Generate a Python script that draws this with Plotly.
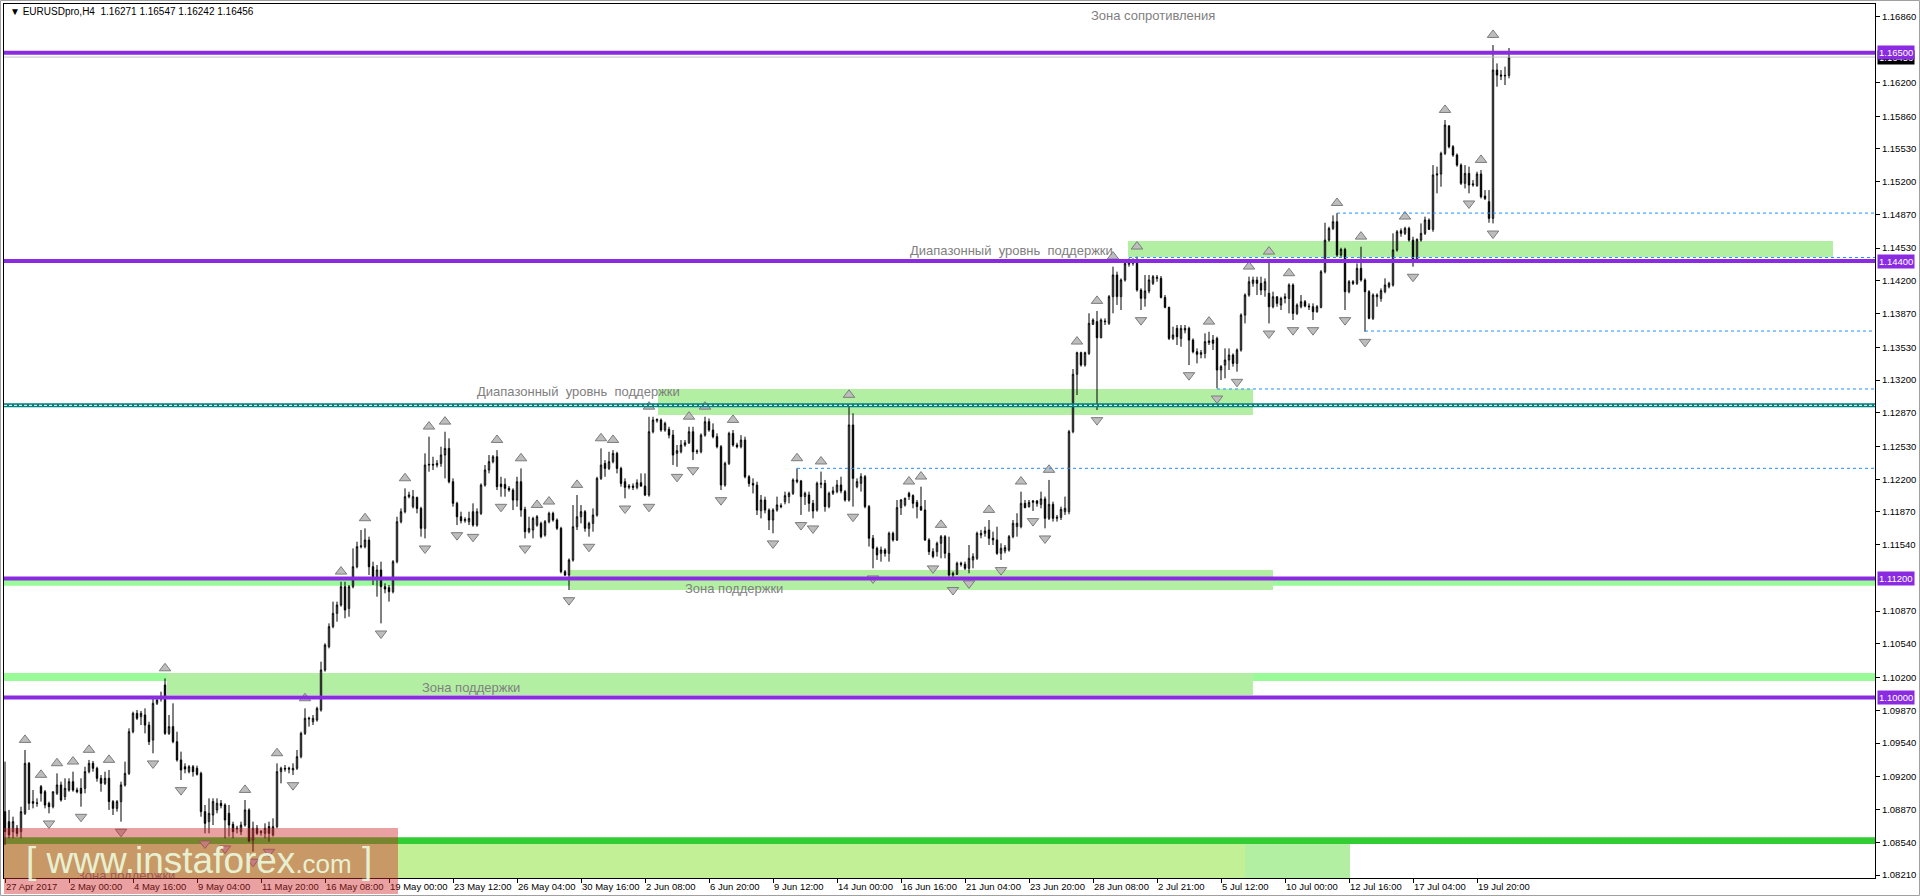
import plotly.graph_objects as go

# ---------------- data (EURUSD H4, 27 Apr 2017 08:00 -> 21 Jul 2017 04:00) ----------------
opens = [
1.08849,1.08748,1.08647,1.08681,1.08647,1.08832,1.09336,1.08950,1.08933,1.09101,
1.09050,1.08933,1.08899,1.09034,1.09118,1.09000,1.09067,1.09151,1.09067,1.09084,
1.09084,1.09252,1.09336,1.09286,1.09185,1.09134,1.09185,1.08950,1.08882,1.08950,
1.09118,1.09235,1.09655,1.09840,1.09806,1.09823,1.09722,1.09571,1.09941,1.09984,
1.10126,1.09638,1.09706,1.09554,1.09370,1.09302,1.09252,1.09302,1.09286,1.09235,
1.08849,1.08748,1.08815,1.08866,1.08933,1.08916,1.08832,1.08721,1.08674,1.08647,
1.08714,1.08866,1.08563,1.08681,1.08637,1.08630,1.08698,1.08614,1.08698,1.09252,
1.09286,1.09276,1.09269,1.09286,1.09403,1.09638,1.09783,1.09756,1.09773,1.09874,
1.10277,1.10512,1.10714,1.10848,1.10932,1.11117,1.10898,1.11117,1.11318,1.11520,
1.11520,1.11587,1.11318,1.11218,1.11285,1.11117,1.11107,1.11066,1.11369,1.11772,
1.11873,1.12024,1.11923,1.12017,1.11906,1.11705,1.12343,1.12350,1.12343,1.12360,
1.12444,1.12511,1.12175,1.11957,1.11822,1.11782,1.11772,1.11873,1.11738,1.11856,
1.12141,1.12293,1.12377,1.12427,1.12151,1.12148,1.12108,1.12091,1.11990,1.12175,
1.11896,1.11671,1.11688,1.11738,1.11755,1.11637,1.11772,1.11856,1.11789,1.11705,
1.11268,1.11234,1.11385,1.11721,1.11822,1.11873,1.11705,1.11755,1.11839,1.12209,
1.12360,1.12309,1.12377,1.12461,1.12309,1.12175,1.12118,1.12131,1.12118,1.12165,
1.12131,1.12041,1.12679,1.12790,1.12797,1.12696,1.12703,1.12645,1.12461,1.12477,
1.12545,1.12568,1.12679,1.12477,1.12477,1.12645,1.12780,1.12696,1.12629,1.12528,
1.12141,1.12360,1.12662,1.12545,1.12528,1.12595,1.12225,1.12158,1.12141,1.11883,
1.11990,1.11889,1.11789,1.11890,1.11934,1.11974,1.12025,1.12058,1.12176,1.12183,
1.12025,1.12041,1.11957,1.11890,1.12149,1.12159,1.11924,1.12058,1.12075,1.12142,
1.12075,1.11991,1.12747,1.12125,1.12159,1.12226,1.11924,1.11605,1.11504,1.11453,
1.11487,1.11453,1.11655,1.11588,1.11914,1.11941,1.12058,1.12035,1.11967,1.11924,
1.11890,1.11588,1.11470,1.11470,1.11554,1.11621,1.11453,1.11235,1.11242,1.11353,
1.11343,1.11302,1.11386,1.11403,1.11638,1.11655,1.11689,1.11605,1.11588,1.11453,
1.11477,1.11487,1.11621,1.11722,1.11722,1.11957,1.11924,1.11967,1.11981,1.11947,
1.12001,1.11806,1.11947,1.11806,1.11816,1.11873,1.11873,1.12680,1.13258,1.13476,
1.13352,1.13469,1.13762,1.13789,1.13627,1.13795,1.13772,1.14041,1.14259,1.14041,
1.14209,1.14367,1.14377,1.14393,1.14108,1.14024,1.14098,1.14175,1.14225,1.14225,
1.14033,1.13933,1.13620,1.13721,1.13620,1.13704,1.13721,1.13603,1.13486,1.13459,
1.13469,1.13577,1.13603,1.13620,1.13301,1.13351,1.13402,1.13452,1.13368,1.13503,
1.13855,1.14057,1.14175,1.14208,1.14175,1.14107,1.14074,1.13939,1.14040,1.13956,
1.14023,1.14023,1.14158,1.13872,1.13939,1.13990,1.13946,1.13939,1.13889,1.13933,
1.14292,1.14611,1.14729,1.14796,1.14460,1.14517,1.14091,1.14191,1.14175,1.14326,
1.14208,1.14091,1.13822,1.14040,1.14023,1.14091,1.14141,1.14158,1.14511,1.14705,
1.14679,1.14729,1.14611,1.14410,1.14611,1.14679,1.14813,1.14719,1.15267,1.15277,
1.15485,1.15761,1.15552,1.15468,1.15367,1.15183,1.15283,1.15166,1.15159,1.15277,
1.15055,1.14998,1.14830,1.16325,1.16275,1.16265,1.16271]

highs = [
1.09353,1.08866,1.08798,1.08714,1.08899,1.09470,1.09350,1.09067,1.08983,1.09118,
1.09067,1.08950,1.09050,1.09235,1.09151,1.09185,1.09185,1.09252,1.09091,1.09185,
1.09302,1.09370,1.09360,1.09302,1.09218,1.09252,1.09269,1.08966,1.08966,1.09151,
1.09353,1.09689,1.09857,1.09874,1.09864,1.09890,1.09756,1.09991,1.10008,1.10058,
1.10192,1.09823,1.09941,1.09655,1.09454,1.09336,1.09319,1.09319,1.09313,1.09252,
1.08916,1.08983,1.08983,1.08983,1.08966,1.08933,1.08916,1.08748,1.08707,1.08748,
1.08966,1.08882,1.08748,1.08714,1.08664,1.08731,1.08748,1.08782,1.09336,1.09302,
1.09319,1.09302,1.09336,1.09470,1.09655,1.09890,1.09806,1.09823,1.09907,1.10361,
1.10546,1.10747,1.10966,1.10966,1.11167,1.11167,1.11134,1.11503,1.11570,1.11688,
1.11705,1.11621,1.11369,1.11335,1.11369,1.11151,1.11134,1.11385,1.11822,1.11906,
1.12108,1.12074,1.12091,1.12024,1.11923,1.12461,1.12629,1.12427,1.12393,1.12528,
1.12679,1.12612,1.12209,1.11973,1.11873,1.11816,1.11873,1.11957,1.11906,1.12158,
1.12343,1.12444,1.12444,1.12494,1.12225,1.12209,1.12131,1.12108,1.12225,1.12309,
1.11923,1.11822,1.11822,1.11839,1.11772,1.11789,1.11873,1.11873,1.11805,1.11721,
1.11285,1.11402,1.11940,1.12041,1.11940,1.11889,1.11772,1.11906,1.12225,1.12511,
1.12393,1.12477,1.12494,1.12477,1.12326,1.12209,1.12151,1.12158,1.12199,1.12259,
1.12259,1.12830,1.12830,1.12813,1.12813,1.12780,1.12729,1.12696,1.12545,1.12595,
1.12595,1.12729,1.12729,1.12501,1.12662,1.12830,1.12813,1.12763,1.12662,1.12545,
1.12377,1.12679,1.12696,1.12568,1.12645,1.12629,1.12242,1.12209,1.12175,1.12041,
1.12024,1.11906,1.11907,1.12025,1.11957,1.12075,1.12075,1.12209,1.12310,1.12193,
1.12075,1.12075,1.11991,1.12176,1.12277,1.12193,1.12075,1.12125,1.12193,1.12226,
1.12092,1.12949,1.12865,1.12209,1.12260,1.12243,1.11941,1.11638,1.11521,1.11521,
1.11504,1.11672,1.11672,1.11991,1.12001,1.12015,1.12075,1.12048,1.11991,1.12125,
1.11991,1.11605,1.11504,1.11571,1.11638,1.11638,1.11621,1.11269,1.11369,1.11369,
1.11369,1.11537,1.11453,1.11672,1.11689,1.11722,1.11789,1.11672,1.11722,1.11554,
1.11537,1.11638,1.11789,1.11857,1.12075,1.11991,1.11991,1.11991,1.11991,1.12075,
1.12025,1.12193,1.11974,1.11840,1.11924,1.12025,1.12697,1.13311,1.13486,1.13486,
1.13486,1.13873,1.13822,1.13896,1.13822,1.13822,1.14057,1.14343,1.14293,1.14225,
1.14410,1.14427,1.14427,1.14444,1.14125,1.14259,1.14259,1.14259,1.14259,1.14249,
1.14057,1.13939,1.13738,1.13755,1.13755,1.13755,1.13738,1.13620,1.13519,1.13503,
1.13671,1.13687,1.13654,1.13637,1.13351,1.13519,1.13519,1.13469,1.13519,1.13872,
1.14074,1.14242,1.14242,1.14242,1.14242,1.14225,1.14393,1.14091,1.14040,1.14040,
1.14074,1.14175,1.14175,1.13973,1.14057,1.14007,1.13973,1.13973,1.13956,1.14309,
1.14786,1.14746,1.14860,1.14883,1.14534,1.14534,1.14208,1.14208,1.14376,1.14544,
1.14225,1.14107,1.14074,1.14074,1.14124,1.14225,1.14191,1.14679,1.14712,1.14729,
1.14746,1.14746,1.14645,1.14628,1.14779,1.14847,1.14830,1.15367,1.15351,1.15502,
1.15821,1.15771,1.15569,1.15485,1.15384,1.15367,1.15351,1.15216,1.15300,1.15317,
1.15115,1.15115,1.16577,1.16392,1.16325,1.16359,1.16547]

lows = [
1.08513,1.08580,1.08580,1.08597,1.08580,1.08815,1.08866,1.08882,1.08899,1.08950,
1.08882,1.08832,1.08882,1.09017,1.08950,1.08966,1.09050,1.09050,1.09034,1.08899,
1.09034,1.09235,1.09252,1.09151,1.09050,1.09118,1.08866,1.08815,1.08849,1.08748,
1.09101,1.09218,1.09638,1.09773,1.09722,1.09638,1.09521,1.09437,1.09924,1.09958,
1.09622,1.09622,1.09538,1.09353,1.09168,1.09235,1.09235,1.09202,1.09212,1.08798,
1.08630,1.08630,1.08714,1.08832,1.08882,1.08580,1.08597,1.08580,1.08630,1.08614,
1.08698,1.08540,1.08446,1.08614,1.08607,1.08580,1.08546,1.08597,1.08681,1.09134,
1.09252,1.09235,1.09218,1.09269,1.09386,1.09622,1.09706,1.09722,1.09756,1.09857,
1.10260,1.10495,1.10697,1.10764,1.10915,1.10798,1.10814,1.11100,1.11302,1.11503,
1.11503,1.11234,1.11134,1.11016,1.10747,1.11050,1.10966,1.11049,1.11352,1.11755,
1.11856,1.12007,1.11906,1.11856,1.11621,1.11604,1.12276,1.12293,1.12319,1.12326,
1.12209,1.12158,1.11923,1.11738,1.11755,1.11762,1.11738,1.11721,1.11721,1.11839,
1.12125,1.12259,1.12360,1.12091,1.12024,1.12024,1.12074,1.11889,1.11923,1.11822,
1.11604,1.11654,1.11604,1.11721,1.11604,1.11621,1.11755,1.11772,1.11688,1.11251,
1.11224,1.11083,1.11369,1.11688,1.11755,1.11671,1.11621,1.11671,1.11822,1.12192,
1.12225,1.12293,1.12360,1.12259,1.12125,1.12007,1.12098,1.12091,1.12098,1.12125,
1.12030,1.12024,1.12662,1.12770,1.12679,1.12679,1.12612,1.12343,1.12326,1.12461,
1.12528,1.12555,1.12393,1.12454,1.12461,1.12629,1.12679,1.12612,1.12511,1.12091,
1.12125,1.12343,1.12528,1.12511,1.12511,1.12209,1.12125,1.12057,1.11839,1.11805,
1.11856,1.11688,1.11655,1.11873,1.11907,1.11947,1.11957,1.12041,1.12159,1.11840,
1.11941,1.11873,1.11806,1.11873,1.12109,1.11873,1.11907,1.12041,1.12058,1.12058,
1.11974,1.11974,1.11924,1.12109,1.12075,1.11907,1.11521,1.11302,1.11386,1.11369,
1.11420,1.11369,1.11571,1.11578,1.11840,1.11924,1.11991,1.11907,1.11806,1.11880,
1.11578,1.11437,1.11403,1.11420,1.11403,1.11403,1.11218,1.11185,1.11235,1.11319,
1.11285,1.11252,1.11302,1.11386,1.11605,1.11621,1.11537,1.11537,1.11437,1.11386,
1.11453,1.11470,1.11605,1.11621,1.11705,1.11907,1.11914,1.11880,1.11924,1.11907,
1.11705,1.11789,1.11773,1.11773,1.11789,1.11840,1.11847,1.12663,1.13049,1.13335,
1.13335,1.13453,1.13755,1.12898,1.13621,1.13755,1.13755,1.13873,1.13957,1.13906,
1.14192,1.14343,1.14353,1.14091,1.13906,1.13940,1.14074,1.14158,1.14191,1.14023,
1.13923,1.13603,1.13603,1.13553,1.13536,1.13671,1.13351,1.13469,1.13368,1.13419,
1.13419,1.13553,1.13503,1.13116,1.13200,1.13217,1.13301,1.13335,1.13284,1.13486,
1.13771,1.14040,1.14141,1.14057,1.14057,1.14040,1.13771,1.13923,1.13939,1.13906,
1.13973,1.13872,1.13805,1.13855,1.13923,1.13933,1.13906,1.13805,1.13879,1.13923,
1.14275,1.14595,1.14712,1.14443,1.14443,1.13906,1.14074,1.14158,1.14158,1.14191,
1.13687,1.13812,1.13805,1.13939,1.13990,1.14074,1.14124,1.14141,1.14494,1.14645,
1.14662,1.14595,1.14343,1.14393,1.14595,1.14662,1.14712,1.14695,1.15082,1.15149,
1.15468,1.15535,1.15451,1.15351,1.15166,1.15132,1.15082,1.15149,1.15149,1.15031,
1.15015,1.14786,1.14779,1.16157,1.16224,1.16174,1.16242]

closes = [
1.08647,1.08614,1.08748,1.08630,1.08849,1.09336,1.08933,1.08933,1.08936,1.09034,
1.08916,1.08899,1.09050,1.09118,1.08966,1.09084,1.09151,1.09067,1.09050,1.09034,
1.09252,1.09336,1.09286,1.09185,1.09134,1.09185,1.08950,1.08882,1.08950,1.09118,
1.09235,1.09655,1.09840,1.09790,1.09840,1.09722,1.09554,1.09941,1.09974,1.09991,
1.09638,1.09706,1.09554,1.09370,1.09269,1.09279,1.09302,1.09252,1.09225,1.08849,
1.08731,1.08832,1.08950,1.08933,1.08909,1.08765,1.08714,1.08647,1.08681,1.08714,
1.08866,1.08553,1.08681,1.08630,1.08647,1.08681,1.08630,1.08698,1.09252,1.09286,
1.09279,1.09286,1.09286,1.09403,1.09638,1.09790,1.09790,1.09790,1.09890,1.10277,
1.10529,1.10714,1.10848,1.10932,1.11117,1.10882,1.11117,1.11318,1.11520,1.11527,
1.11587,1.11318,1.11218,1.11285,1.11117,1.11093,1.11066,1.11369,1.11772,1.11873,
1.12024,1.12041,1.12024,1.11906,1.11705,1.12343,1.12350,1.12343,1.12360,1.12444,
1.12511,1.12175,1.11957,1.11822,1.11782,1.11795,1.11805,1.11738,1.11873,1.12141,
1.12293,1.12377,1.12427,1.12125,1.12125,1.12108,1.12091,1.11990,1.12175,1.11889,
1.11671,1.11705,1.11805,1.11822,1.11621,1.11772,1.11856,1.11789,1.11705,1.11268,
1.11234,1.11385,1.11721,1.11822,1.11873,1.11705,1.11755,1.11839,1.12209,1.12343,
1.12309,1.12377,1.12461,1.12309,1.12158,1.12118,1.12131,1.12118,1.12165,1.12131,
1.12041,1.12679,1.12797,1.12803,1.12696,1.12763,1.12645,1.12444,1.12488,1.12545,
1.12568,1.12679,1.12477,1.12484,1.12645,1.12780,1.12696,1.12629,1.12528,1.12141,
1.12360,1.12662,1.12545,1.12528,1.12595,1.12225,1.12158,1.12141,1.11889,1.11990,
1.11889,1.11789,1.11890,1.11941,1.11924,1.12035,1.12058,1.12193,1.12193,1.12025,
1.12058,1.11957,1.11880,1.12159,1.12159,1.11924,1.12058,1.12082,1.12142,1.12082,
1.11991,1.12747,1.12209,1.12176,1.12226,1.11924,1.11605,1.11504,1.11437,1.11487,
1.11453,1.11655,1.11588,1.11914,1.11991,1.12008,1.12025,1.11957,1.11924,1.11890,
1.11588,1.11470,1.11420,1.11554,1.11621,1.11453,1.11235,1.11252,1.11353,1.11343,
1.11302,1.11403,1.11420,1.11655,1.11655,1.11679,1.11605,1.11588,1.11453,1.11504,
1.11511,1.11621,1.11756,1.11756,1.11957,1.11914,1.11967,1.11981,1.11957,1.12001,
1.11806,1.11947,1.11806,1.11816,1.11897,1.11907,1.12680,1.13258,1.13476,1.13352,
1.13476,1.13772,1.13805,1.13627,1.13805,1.13789,1.14041,1.14259,1.14041,1.14209,
1.14377,1.14393,1.14393,1.14108,1.14024,1.14098,1.14209,1.14242,1.14235,1.14033,
1.13933,1.13620,1.13654,1.13637,1.13721,1.13721,1.13603,1.13486,1.13459,1.13476,
1.13587,1.13594,1.13570,1.13301,1.13335,1.13402,1.13452,1.13368,1.13503,1.13855,
1.14057,1.14191,1.14208,1.14175,1.14107,1.14191,1.13939,1.14040,1.13973,1.14023,
1.14040,1.14158,1.13872,1.13956,1.13990,1.13946,1.13939,1.13889,1.13939,1.14292,
1.14611,1.14729,1.14796,1.14460,1.14517,1.14091,1.14191,1.14175,1.14326,1.14208,
1.14091,1.13822,1.14057,1.14057,1.14101,1.14158,1.14175,1.14511,1.14695,1.14679,
1.14729,1.14611,1.14410,1.14618,1.14679,1.14813,1.14719,1.15267,1.15277,1.15485,
1.15771,1.15552,1.15468,1.15367,1.15183,1.15283,1.15166,1.15176,1.15277,1.15048,
1.15031,1.14830,1.16325,1.16275,1.16265,1.16271,1.16456]

time_labels = ["27 Apr 2017", "2 May 00:00", "4 May 16:00", "9 May 04:00", "11 May 20:00",
               "16 May 08:00", "19 May 00:00", "23 May 12:00", "26 May 04:00", "30 May 16:00",
               "2 Jun 08:00", "6 Jun 20:00", "9 Jun 12:00", "14 Jun 00:00", "16 Jun 16:00",
               "21 Jun 04:00", "23 Jun 20:00", "28 Jun 08:00", "2 Jul 21:00", "5 Jul 12:00",
               "10 Jul 00:00", "12 Jul 16:00", "17 Jul 04:00", "19 Jul 20:00"]
label_step = 16

price_ticks = [1.16860, 1.16200, 1.15860, 1.15530, 1.15200, 1.14870, 1.14530, 1.14200,
               1.13870, 1.13530, 1.13200, 1.12870, 1.12530, 1.12200, 1.11870, 1.11540,
               1.10870, 1.10540, 1.10200, 1.09870, 1.09540, 1.09200, 1.08870, 1.08540, 1.08210]

purple_levels = [1.16500, 1.14400, 1.11200, 1.10000]
teal_level = 1.12945
bid_price = 1.16456
# dashed levels: (price, first bar)
dashed_levels = [(1.14883, 333), (1.14435, 281), (1.13694, 340), (1.13110, 303), (1.12310, 198)]
# zones: (first bar, last bar, low, high)
zones = [(280.75, 457, 1.14440, 1.14601),
         (163.25, 312, 1.12847, 1.13109),
         (141.25, 317, 1.11083, 1.11284),
         (40.5, 312, 1.10024, 1.10246)]
strips = [(1.10165, 1.10246), (1.11125, 1.11195)]
lime_strip = (1.08522, 1.08592)
bottom_zone_a = (-0.25, 310, 1.08522)
bottom_zone_b = (310, 336.25, 1.08522)

# --------------------------------------------------------------------------------------
n = min(len(opens), len(highs), len(lows), len(closes))
opens, highs, lows, closes = opens[:n], highs[:n], lows[:n], closes[:n]
highs = [max(h, o, c) for h, o, c in zip(highs, opens, closes)]
lows = [min(l, o, c) for l, o, c in zip(lows, opens, closes)]
xs = list(range(n))

X0, X1 = -0.25, 467.5
Y0, Y1 = 1.08180, 1.16991
PURPLE = "#8A2BE2"
FONT = "Liberation Sans"

fig = go.Figure()

fig.add_trace(go.Candlestick(
    x=xs, open=opens, high=highs, low=lows, close=closes,
    increasing=dict(line=dict(color="black", width=1), fillcolor="white"),
    decreasing=dict(line=dict(color="black", width=1), fillcolor="black"),
    whiskerwidth=0, showlegend=False, hoverinfo="skip"))

# Bill Williams fractals from the bars
up_x, up_y, dn_x, dn_y = [], [], [], []
for i in range(2, n - 2):
    if highs[i] > highs[i - 1] and highs[i] > highs[i - 2] and highs[i] >= highs[i + 1] and highs[i] >= highs[i + 2]:
        up_x.append(i); up_y.append(highs[i] + 0.00102)
    if lows[i] < lows[i - 1] and lows[i] < lows[i - 2] and lows[i] <= lows[i + 1] and lows[i] <= lows[i + 2]:
        dn_x.append(i); dn_y.append(lows[i] - 0.00102)
fig.add_trace(go.Scatter(x=up_x, y=up_y, mode="markers", showlegend=False, hoverinfo="skip",
                         marker=dict(symbol="triangle-up", size=10, color="#BDBDBD",
                                     line=dict(color="#7C7C7C", width=1))))
fig.add_trace(go.Scatter(x=dn_x, y=dn_y, mode="markers", showlegend=False, hoverinfo="skip",
                         marker=dict(symbol="triangle-down", size=10, color="#BDBDBD",
                                     line=dict(color="#7C7C7C", width=1))))

# clipped text at the bottom
fig.add_trace(go.Scatter(x=[18], y=[1.08192], mode="text", text=["Зона поддержки"],
                         textposition="middle right", cliponaxis=True, showlegend=False,
                         hoverinfo="skip", textfont=dict(family=FONT, size=13, color="#808080")))

shapes = []
ZONE = "#B3EFA3"
for a, b, lo, hi in zones:
    shapes.append(dict(type="rect", xref="x", yref="y", x0=a, x1=b, y0=lo, y1=hi,
                       fillcolor=ZONE, line=dict(width=0), layer="below"))
shapes.append(dict(type="rect", xref="x", yref="y", x0=bottom_zone_a[0], x1=bottom_zone_a[1],
                   y0=Y0 - 0.001, y1=bottom_zone_a[2], fillcolor="#C2F096", line=dict(width=0), layer="below"))
shapes.append(dict(type="rect", xref="x", yref="y", x0=bottom_zone_b[0], x1=bottom_zone_b[1],
                   y0=Y0 - 0.001, y1=bottom_zone_b[2], fillcolor="#B3EFA3", line=dict(width=0), layer="below"))
for lo, hi in strips:
    shapes.append(dict(type="rect", xref="paper", yref="y", x0=0, x1=1, y0=lo, y1=hi,
                       fillcolor="#98FB98", line=dict(width=0), layer="below"))
shapes.append(dict(type="rect", xref="paper", yref="y", x0=0, x1=1, y0=lime_strip[0], y1=lime_strip[1],
                   fillcolor="#32CD32", line=dict(width=0), layer="below"))

# bid line
shapes.append(dict(type="line", xref="paper", yref="y", x0=0, x1=1, y0=bid_price, y1=bid_price,
                   line=dict(color="#C0C0C0", width=1), layer="above"))
# dashed levels
for p, b in dashed_levels:
    shapes.append(dict(type="line", xref="x", yref="y", x0=b, x1=X1, y0=p, y1=p,
                       line=dict(color="#1E90FF", width=1, dash="3px,3px"), layer="above"))
# teal double line
shapes.append(dict(type="line", xref="paper", yref="y", x0=0, x1=1, y0=teal_level, y1=teal_level,
                   line=dict(color="#008080", width=4), layer="above"))
shapes.append(dict(type="line", xref="paper", yref="y", x0=0, x1=1, y0=teal_level, y1=teal_level,
                   line=dict(color="white", width=1, dash="3px,2px"), layer="above"))
for p in purple_levels:
    shapes.append(dict(type="line", xref="paper", yref="y", x0=0, x1=1, y0=p, y1=p,
                       line=dict(color=PURPLE, width=4), layer="above"))

# watermark background
PW, PH = 1871.0, 874.0
shapes.append(dict(type="rect", xref="paper", yref="paper", x0=0, x1=394 / PW,
                   y0=-16 / PH, y1=50 / PH, fillcolor="rgba(208,41,41,0.44)",
                   line=dict(width=0), layer="above"))
# outer window frame
shapes.append(dict(type="rect", xref="paper", yref="paper", x0=-3.5 / PW, x1=1 + 44.5 / PW,
                   y0=-17.5 / PH, y1=1 + 3.5 / PH, line=dict(color="#A0A0A0", width=1),
                   fillcolor="rgba(0,0,0,0)", layer="above"))

ann = []
NB = "\u00a0"
title = ("▼ EURUSDpro,H4" + NB + NB + f"{opens[-1]:.5f} {highs[-1]:.5f} {lows[-1]:.5f} {closes[-1]:.5f}")
ann.append(dict(xref="paper", yref="paper", x=4 / PW, y=(874 - 8) / PH, xanchor="left", yanchor="middle",
                text=title, showarrow=False, font=dict(family=FONT, size=10, color="black")))

gray = dict(family=FONT, size=13, color="#808080")
ann.append(dict(xref="x", yref="y", x=287, y=1.16880, text="Зона сопротивления", showarrow=False,
                xanchor="center", yanchor="middle", font=gray))
rng = "Диапазонный" + NB + NB + "уровнь" + NB + NB + "поддержки"
ann.append(dict(xref="x", yref="y", x=277.5, y=1.14510, text=rng, showarrow=False,
                xanchor="right", yanchor="middle", font=gray))
ann.append(dict(xref="x", yref="y", x=117.5, y=1.13089, text=rng, showarrow=False,
                xanchor="left", yanchor="middle", font=gray))
ann.append(dict(xref="x", yref="y", x=169.5, y=1.11103, text="Зона поддержки", showarrow=False,
                xanchor="left", yanchor="middle", font=gray))
ann.append(dict(xref="x", yref="y", x=103.75, y=1.10105, text="Зона поддержки", showarrow=False,
                xanchor="left", yanchor="middle", font=gray))

# price boxes on the right axis
ann.append(dict(xref="paper", yref="y", x=1, y=bid_price, xanchor="left", yanchor="middle", xshift=2,
                text=f"{bid_price:.5f}", showarrow=False, bgcolor="black", borderpad=1,
                font=dict(family=FONT, size=9.5, color="white")))
for p in purple_levels:
    ann.append(dict(xref="paper", yref="y", x=1, y=p, xanchor="left", yanchor="middle", xshift=2,
                    text=f"{p:.5f}", showarrow=False, bgcolor=PURPLE, borderpad=1,
                    font=dict(family=FONT, size=9.5, color="white")))

# watermark text
ann.append(dict(xref="paper", yref="paper", x=195 / PW, y=18 / PH, xanchor="center", yanchor="middle",
                text="[" + NB + "www.instaforex<span style='font-size:26px'>.com</span>" + NB + "]",
                showarrow=False, font=dict(family=FONT, size=37, color="rgba(236,250,222,0.93)")))

fig.update_layout(
    width=1920, height=896,
    margin=dict(l=4, r=45, t=4, b=18, pad=0, autoexpand=False),
    paper_bgcolor="white", plot_bgcolor="white",
    showlegend=False, boxgap=0.5,
    shapes=shapes, annotations=ann,
    xaxis=dict(range=[X0, X1], showgrid=False, zeroline=False, showline=True, linecolor="black",
               linewidth=1, mirror=True, tickmode="array", automargin=False, tickangle=0,
               tickvals=[i * label_step for i in range(len(time_labels))], ticktext=time_labels,
               ticks="outside", ticklen=4, tickcolor="black", ticklabelposition="outside right",
               tickfont=dict(family=FONT, size=9.5, color="black"),
               rangeslider=dict(visible=False), fixedrange=True),
    yaxis=dict(range=[Y0, Y1], side="right", showgrid=False, zeroline=False, showline=True,
               linecolor="black", linewidth=1, mirror=True, tickmode="array", tickvals=price_ticks,
               automargin=False,
               ticktext=[f"{v:.5f}" for v in price_ticks], ticks="outside", ticklen=4,
               tickcolor="black", tickfont=dict(family=FONT, size=9.5, color="black"), fixedrange=True),
)

fig.write_html("out.html", include_plotlyjs=True, config={"displayModeBar": False},
               post_script="document.body.style.margin='0';document.body.style.overflow='hidden';")
